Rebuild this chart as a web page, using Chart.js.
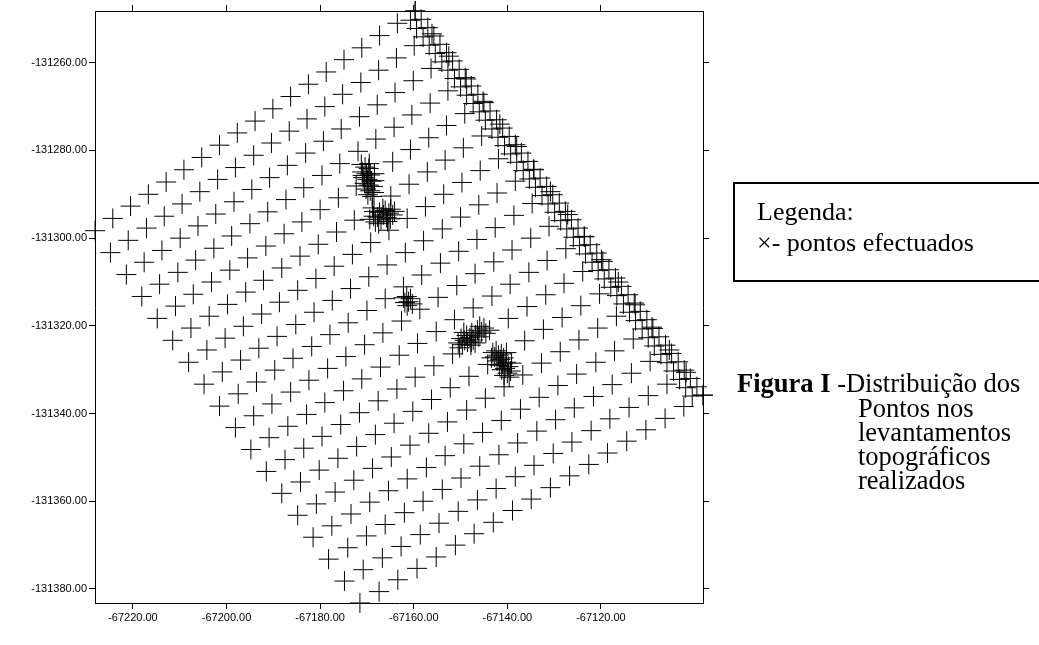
<!DOCTYPE html>
<html lang="pt">
<head>
<meta charset="UTF-8" />
<title>Figura I - Distribuição dos Pontos</title>
<script src="https://cdn.jsdelivr.net/npm/chart.js"></script>
<style>
  html, body { margin: 0; padding: 0; background: #fff; }
  body {
    width: 1039px; height: 645px;
    position: relative; overflow: hidden;
    font-family: "Liberation Serif", "Times New Roman", serif;
    color: #000;
  }
  #chart { position: absolute; left: 0; top: 0; }
  .legend-box {
    position: absolute; left: 733px; top: 182px;
    width: 330px; height: 100px;
    border: 2px solid #000; box-sizing: border-box;
  }
  .legend-text {
    position: absolute; left: 757px; top: 196px;
    font-size: 26px; line-height: 31px; white-space: nowrap;
  }
  .caption-1 {
    position: absolute; left: 737px; top: 371px;
    font-size: 26.5px; line-height: 24.3px; white-space: nowrap;
  }
  .caption-rest {
    position: absolute; left: 858px; top: 395.5px;
    font-size: 26.5px; line-height: 24.3px; white-space: nowrap;
  }
</style>
</head>
<body>

<canvas id="chart" width="1039" height="645"></canvas>

<div class="legend-box"></div>
<div class="legend-text">Legenda:<br>×- pontos efectuados</div>

<div class="caption-1"><b>Figura I</b> -Distribuição dos</div>
<div class="caption-rest">Pontos nos<br>levantamentos<br>topográficos<br>realizados</div>

<script>
  // tick values
  const xTicks = [-67220, -67200, -67180, -67160, -67140, -67120];
  const yTicks = [-131260, -131280, -131300, -131320, -131340, -131360, -131380];

  // survey grid, one line per row (left edge -> upper right edge)
  const gridX = [
    -67228.1, -67224.3, -67220.5, -67216.7, -67212.9, -67209.1, -67205.3, -67201.5, -67197.7, -67193.9, -67190.1, -67186.3, -67182.5, -67178.7, -67174.9, -67171.1, -67167.3, -67163.5, -67159.7,
    -67224.8, -67221.0, -67217.1, -67213.3, -67209.5, -67205.7, -67201.9, -67198.1, -67194.2, -67190.4, -67186.6, -67182.8, -67179.0, -67175.2, -67171.3, -67167.5, -67163.7, -67159.9, -67156.1,
    -67221.4, -67217.6, -67213.8, -67209.9, -67206.1, -67202.3, -67198.4, -67194.6, -67190.8, -67187.0, -67183.1, -67179.3, -67175.5, -67171.6, -67167.8, -67164.0, -67160.1, -67156.3, -67152.5,
    -67218.1, -67214.3, -67210.4, -67206.6, -67202.7, -67198.9, -67195.0, -67191.2, -67187.3, -67183.5, -67179.6, -67175.8, -67171.9, -67168.1, -67164.2, -67160.4, -67156.5, -67152.7, -67148.8,
    -67214.8, -67210.9, -67207.1, -67203.2, -67199.3, -67195.5, -67191.6, -67187.7, -67183.9, -67180.0, -67176.1, -67172.3, -67168.4, -67164.5, -67160.7, -67156.8, -67153.0, -67149.1, -67145.2,
    -67211.5, -67207.6, -67203.7, -67199.8, -67195.9, -67192.1, -67188.2, -67184.3, -67180.4, -67176.5, -67172.7, -67168.8, -67164.9, -67161.0, -67157.1, -67153.3, -67149.4, -67145.5, -67141.6,
    -67208.1, -67204.2, -67200.3, -67196.4, -67192.5, -67188.7, -67184.8, -67180.9, -67177.0, -67173.1, -67169.2, -67165.3, -67161.4, -67157.5, -67153.6, -67149.7, -67145.8, -67141.9, -67138.0,
    -67204.8, -67200.9, -67197.0, -67193.1, -67189.2, -67185.2, -67181.3, -67177.4, -67173.5, -67169.6, -67165.7, -67161.8, -67157.9, -67153.9, -67150.0, -67146.1, -67142.2, -67138.3, -67134.4,
    -67201.5, -67197.5, -67193.6, -67189.7, -67185.8, -67181.8, -67177.9, -67174.0, -67170.0, -67166.1, -67162.2, -67158.3, -67154.3, -67150.4, -67146.5, -67142.6, -67138.6, -67134.7, -67130.8,
    -67198.1, -67194.2, -67190.3, -67186.3, -67182.4, -67178.4, -67174.5, -67170.5, -67166.6, -67162.6, -67158.7, -67154.8, -67150.8, -67146.9, -67142.9, -67139.0, -67135.0, -67131.1, -67127.1,
    -67194.8, -67190.9, -67186.9, -67182.9, -67179.0, -67175.0, -67171.1, -67167.1, -67163.1, -67159.2, -67155.2, -67151.3, -67147.3, -67143.3, -67139.4, -67135.4, -67131.5, -67127.5, -67123.5,
    -67191.5, -67187.5, -67183.5, -67179.6, -67175.6, -67171.6, -67167.6, -67163.6, -67159.7, -67155.7, -67151.7, -67147.7, -67143.8, -67139.8, -67135.8, -67131.8, -67127.9, -67123.9, -67119.9,
    -67188.2, -67184.2, -67180.2, -67176.2, -67172.2, -67168.2, -67164.2, -67160.2, -67156.2, -67152.2, -67148.2, -67144.2, -67140.2, -67136.3, -67132.3, -67128.3, -67124.3, -67120.3, -67116.3,
    -67184.8, -67180.8, -67176.8, -67172.8, -67168.8, -67164.8, -67160.8, -67156.8, -67152.8, -67148.7, -67144.7, -67140.7, -67136.7, -67132.7, -67128.7, -67124.7, -67120.7, -67116.7, -67112.7,
    -67181.5, -67177.5, -67173.4, -67169.4, -67165.4, -67161.4, -67157.3, -67153.3, -67149.3, -67145.3, -67141.3, -67137.2, -67133.2, -67129.2, -67125.2, -67121.1, -67117.1, -67113.1, -67109.1,
    -67178.2, -67174.1, -67170.1, -67166.1, -67162.0, -67158.0, -67153.9, -67149.9, -67145.9, -67141.8, -67137.8, -67133.7, -67129.7, -67125.7, -67121.6, -67117.6, -67113.5, -67109.5, -67105.4,
    -67174.8, -67170.8, -67166.7, -67162.7, -67158.6, -67154.6, -67150.5, -67146.4, -67142.4, -67138.3, -67134.3, -67130.2, -67126.2, -67122.1, -67118.1, -67114.0, -67109.9, -67105.9, -67101.8,
    -67171.5, -67167.4, -67163.4, -67159.3, -67155.2, -67151.1, -67147.1, -67143.0, -67138.9, -67134.9, -67130.8, -67126.7, -67122.6, -67118.6, -67114.5, -67110.4, -67106.3, -67102.3, -67098.2
  ];
  const gridY = [
    -131298.3, -131295.5, -131292.7, -131290.0, -131287.2, -131284.4, -131281.6, -131278.8, -131276.0, -131273.3, -131270.5, -131267.7, -131264.9, -131262.1, -131259.3, -131256.6, -131253.8, -131251.0, -131248.2,
    -131303.3, -131300.5, -131297.7, -131295.0, -131292.2, -131289.4, -131286.6, -131283.9, -131281.1, -131278.3, -131275.6, -131272.8, -131270.0, -131267.2, -131264.5, -131261.7, -131258.9, -131256.1, -131253.4,
    -131308.3, -131305.5, -131302.8, -131300.0, -131297.2, -131294.5, -131291.7, -131288.9, -131286.2, -131283.4, -131280.6, -131277.9, -131275.1, -131272.3, -131269.6, -131266.8, -131264.1, -131261.3, -131258.5,
    -131313.3, -131310.5, -131307.8, -131305.0, -131302.3, -131299.5, -131296.7, -131294.0, -131291.2, -131288.5, -131285.7, -131283.0, -131280.2, -131277.4, -131274.7, -131271.9, -131269.2, -131266.4, -131263.7,
    -131318.3, -131315.5, -131312.8, -131310.0, -131307.3, -131304.5, -131301.8, -131299.0, -131296.3, -131293.5, -131290.8, -131288.1, -131285.3, -131282.6, -131279.8, -131277.1, -131274.3, -131271.6, -131268.8,
    -131323.3, -131320.5, -131317.8, -131315.1, -131312.3, -131309.6, -131306.8, -131304.1, -131301.4, -131298.6, -131295.9, -131293.1, -131290.4, -131287.7, -131284.9, -131282.2, -131279.4, -131276.7, -131274.0,
    -131328.3, -131325.5, -131322.8, -131320.1, -131317.3, -131314.6, -131311.9, -131309.2, -131306.4, -131303.7, -131301.0, -131298.2, -131295.5, -131292.8, -131290.0, -131287.3, -131284.6, -131281.9, -131279.1,
    -131333.3, -131330.5, -131327.8, -131325.1, -131322.4, -131319.7, -131316.9, -131314.2, -131311.5, -131308.8, -131306.1, -131303.3, -131300.6, -131297.9, -131295.2, -131292.4, -131289.7, -131287.0, -131284.3,
    -131338.3, -131335.5, -131332.8, -131330.1, -131327.4, -131324.7, -131322.0, -131319.3, -131316.5, -131313.8, -131311.1, -131308.4, -131305.7, -131303.0, -131300.3, -131297.6, -131294.8, -131292.1, -131289.4,
    -131343.2, -131340.5, -131337.8, -131335.1, -131332.4, -131329.7, -131327.0, -131324.3, -131321.6, -131318.9, -131316.2, -131313.5, -131310.8, -131308.1, -131305.4, -131302.7, -131300.0, -131297.3, -131294.6,
    -131348.2, -131345.5, -131342.9, -131340.2, -131337.5, -131334.8, -131332.1, -131329.4, -131326.7, -131324.0, -131321.3, -131318.6, -131315.9, -131313.2, -131310.5, -131307.8, -131305.1, -131302.4, -131299.7,
    -131353.2, -131350.5, -131347.9, -131345.2, -131342.5, -131339.8, -131337.1, -131334.4, -131331.7, -131329.1, -131326.4, -131323.7, -131321.0, -131318.3, -131315.6, -131312.9, -131310.3, -131307.6, -131304.9,
    -131358.2, -131355.6, -131352.9, -131350.2, -131347.5, -131344.8, -131342.2, -131339.5, -131336.8, -131334.1, -131331.5, -131328.8, -131326.1, -131323.4, -131320.8, -131318.1, -131315.4, -131312.7, -131310.0,
    -131363.2, -131360.6, -131357.9, -131355.2, -131352.5, -131349.9, -131347.2, -131344.5, -131341.9, -131339.2, -131336.5, -131333.9, -131331.2, -131328.5, -131325.9, -131323.2, -131320.5, -131317.8, -131315.2,
    -131368.2, -131365.6, -131362.9, -131360.2, -131357.6, -131354.9, -131352.3, -131349.6, -131346.9, -131344.3, -131341.6, -131339.0, -131336.3, -131333.6, -131331.0, -131328.3, -131325.7, -131323.0, -131320.3,
    -131373.2, -131370.6, -131367.9, -131365.3, -131362.6, -131360.0, -131357.3, -131354.7, -131352.0, -131349.4, -131346.7, -131344.0, -131341.4, -131338.7, -131336.1, -131333.4, -131330.8, -131328.1, -131325.5,
    -131378.2, -131375.6, -131372.9, -131370.3, -131367.6, -131365.0, -131362.3, -131359.7, -131357.1, -131354.4, -131351.8, -131349.1, -131346.5, -131343.9, -131341.2, -131338.6, -131335.9, -131333.3, -131330.6,
    -131383.2, -131380.6, -131377.9, -131375.3, -131372.7, -131370.0, -131367.4, -131364.8, -131362.1, -131359.5, -131356.9, -131354.2, -131351.6, -131349.0, -131346.3, -131343.7, -131341.1, -131338.4, -131335.8
  ];

  // dense double line along the upper right edge
  const edgeX = [
    -67159.7, -67158.4, -67157.0, -67155.7, -67154.4, -67153.0, -67151.7, -67150.3, -67149.0, -67147.7, -67146.3, -67145.0,
    -67143.7, -67142.3, -67141.0, -67139.6, -67138.3, -67137.0, -67135.6, -67134.3, -67133.0, -67131.6, -67130.3, -67128.9,
    -67127.6, -67126.3, -67124.9, -67123.6, -67122.3, -67120.9, -67119.6, -67118.3, -67116.9, -67115.6, -67114.2, -67112.9,
    -67111.6, -67110.2, -67108.9, -67107.6, -67106.2, -67104.9, -67103.5, -67102.2, -67100.9, -67099.5, -67098.2,
    -67160.7, -67159.4, -67158.0, -67156.7, -67155.4, -67154.0, -67152.7, -67151.3, -67150.0, -67148.7, -67147.3, -67146.0,
    -67144.7, -67143.3, -67142.0, -67140.6, -67139.3, -67138.0, -67136.6, -67135.3, -67134.0, -67132.6, -67131.3, -67129.9,
    -67128.6, -67127.3, -67125.9, -67124.6, -67123.3, -67121.9, -67120.6, -67119.3, -67117.9, -67116.6, -67115.2, -67113.9,
    -67112.6, -67111.2, -67109.9, -67108.6, -67107.2, -67105.9, -67104.5, -67103.2, -67101.9, -67100.5
  ];
  const edgeY = [
    -131248.2, -131250.1, -131252.0, -131253.9, -131255.8, -131257.7, -131259.6, -131261.5, -131263.4, -131265.3, -131267.2, -131269.1,
    -131271.0, -131273.0, -131274.9, -131276.8, -131278.7, -131280.6, -131282.5, -131284.4, -131286.3, -131288.2, -131290.1, -131292.0,
    -131293.9, -131295.8, -131297.7, -131299.6, -131301.5, -131303.4, -131305.3, -131307.2, -131309.1, -131311.0, -131312.9, -131314.8,
    -131316.7, -131318.6, -131320.6, -131322.5, -131324.4, -131326.3, -131328.2, -131330.1, -131332.0, -131333.9, -131335.8,
    -131250.3, -131252.2, -131254.1, -131256.0, -131257.9, -131259.8, -131261.7, -131263.6, -131265.5, -131267.4, -131269.3, -131271.2,
    -131273.1, -131275.1, -131277.0, -131278.9, -131280.8, -131282.7, -131284.6, -131286.5, -131288.4, -131290.3, -131292.2, -131294.1,
    -131296.0, -131297.9, -131299.8, -131301.7, -131303.6, -131305.5, -131307.4, -131309.3, -131311.2, -131313.1, -131315.0, -131316.9,
    -131318.8, -131320.7, -131322.7, -131324.6, -131326.5, -131328.4, -131330.3, -131332.2, -131334.1, -131336.0
  ];

  // repeated shots (the five dark clusters)
  const clusterX = [
    -67171.2, -67170.4, -67169.6, -67171.0, -67170.1, -67169.3, -67170.8, -67169.9, -67169.0, -67170.5,
    -67169.6, -67168.7, -67170.2, -67169.3, -67168.5, -67169.8, -67168.9, -67170.9, -67168.4, -67169.5,
    -67169.4, -67168.6, -67168.2, -67167.7, -67167.3, -67167.0, -67166.5, -67166.1, -67165.8, -67165.3,
    -67164.9, -67164.5, -67167.5, -67165.6, -67164.1, -67168.5, -67166.6, -67165.0,
    -67162.2, -67161.5, -67160.7, -67161.9, -67161.1, -67160.3, -67161.4,
    -67150.5, -67149.9, -67149.6, -67149.1, -67148.7, -67148.5, -67148.0, -67147.6, -67147.3, -67146.8,
    -67146.4, -67146.1, -67145.5, -67145.0, -67147.8, -67145.9, -67149.3, -67144.6, -67150.2, -67146.9,
    -67143.1, -67142.4, -67142.7, -67141.9, -67141.3, -67142.2, -67141.5, -67140.8, -67141.7, -67141.0,
    -67140.3, -67141.2, -67140.5, -67139.8, -67140.0, -67139.3, -67139.6, -67143.4, -67139.1, -67140.7
  ];
  const clusterY = [
    -131283.2, -131283.8, -131284.1, -131284.9, -131285.3, -131285.6, -131286.2, -131286.6, -131287.0, -131287.5,
    -131287.9, -131288.2, -131288.8, -131289.2, -131289.6, -131290.1, -131290.5, -131285.7, -131286.9, -131283.0,
    -131295.7, -131295.0, -131296.3, -131295.2, -131294.1, -131295.8, -131294.7, -131293.7, -131295.3, -131294.3,
    -131293.4, -131294.7, -131296.7, -131296.2, -131293.9, -131293.9, -131293.3, -131295.6,
    -131313.6, -131313.3, -131313.8, -131314.7, -131314.5, -131315.0, -131315.4,
    -131323.9, -131322.9, -131324.3, -131323.3, -131322.2, -131323.7, -131322.7, -131321.6, -131323.2, -131322.1,
    -131321.0, -131322.5, -131321.4, -131320.5, -131324.4, -131320.1, -131321.5, -131321.7, -131325.0, -131323.9,
    -131326.1, -131325.7, -131327.1, -131326.7, -131326.4, -131328.0, -131327.7, -131327.3, -131329.0, -131328.7,
    -131328.3, -131330.0, -131329.7, -131329.3, -131330.8, -131330.3, -131331.7, -131327.3, -131328.5, -131331.3
  ];

  // axis limits = extent of the surveyed points
  const xMin = -67228.1, xMax = -67098.2;
  const yMin = -131383.2, yMax = -131248.2;

  function toPoints(xs, ys) {
    return xs.map((x, i) => ({ x: x, y: ys[i] }));
  }

  function crossSet(label, xs, ys) {
    return {
      label: label,
      data: toPoints(xs, ys),
      pointStyle: 'cross',
      pointRadius: 10,
      pointHoverRadius: 10,
      pointBorderWidth: 1,
      borderColor: '#000',
      backgroundColor: '#000',
      clip: false
    };
  }

  const tickFont = { family: '"Liberation Sans", Arial, sans-serif', size: 11 };

  function makeAxis(position, values, min, max, showLabels, size, pad) {
    const horizontal = position === 'top' || position === 'bottom';
    return {
      type: 'linear',
      position: position,
      min: min,
      max: max,
      afterBuildTicks: (s) => { s.ticks = values.map(v => ({ value: v })); },
      afterFit: (s) => {
        if (horizontal) s.height = size; else s.width = size;
      },
      grid: {
        drawOnChartArea: false,
        drawTicks: true,
        tickLength: 6,
        color: '#000',
        lineWidth: 1
      },
      border: { display: true, color: '#000', width: 1 },
      ticks: {
        display: showLabels,
        padding: pad,
        color: '#000',
        font: tickFont,
        autoSkip: false,
        maxRotation: 0,
        callback: (v) => Number(v).toFixed(2)
      }
    };
  }

  new Chart(document.getElementById('chart'), {
    type: 'scatter',
    data: {
      datasets: [
        crossSet('Grelha', gridX, gridY),
        crossSet('Bordo', edgeX, edgeY),
        crossSet('Repetições', clusterX, clusterY)
      ]
    },
    options: {
      responsive: false,
      animation: false,
      events: [],
      layout: { padding: { left: 0, top: 0, right: 326, bottom: 12 } },
      scales: {
        x: makeAxis('bottom', xTicks, xMin, xMax, true, 30, 2),
        y: makeAxis('left', yTicks, yMin, yMax, true, 95, 2),
        x2: makeAxis('top', xTicks, xMin, xMax, false, 10, 0),
        y2: makeAxis('right', yTicks, yMin, yMax, false, 10, 0)
      },
      plugins: {
        legend: { display: false },
        tooltip: { enabled: false }
      }
    }
  });
</script>

</body>
</html>
